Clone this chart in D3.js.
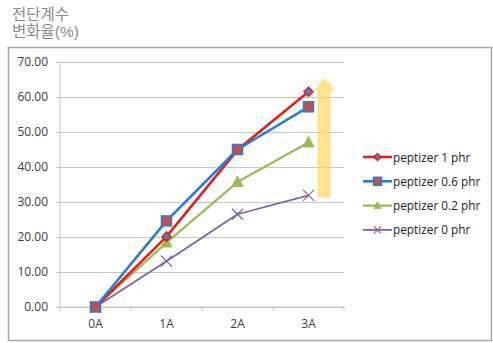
<!DOCTYPE html>
<html>
<head>
<meta charset="utf-8">
<script src="https://cdn.jsdelivr.net/npm/d3@7"></script>
<style>
  html, body { margin: 0; padding: 0; background: #fff; }
  svg { display: block; }
</style>
</head>
<body>
<svg id="chart" width="493" height="343"></svg>
<script>
// Shear modulus change rate by aging step
const categories = ["0A", "1A", "2A", "3A"];
const seriesNames = ["peptizer 1 phr", "peptizer 0.6 phr", "peptizer 0.2 phr", "peptizer 0 phr"];
const peptizer1 = [0, 20.1, 44.9, 61.5];
const peptizer06 = [0, 24.6, 45.0, 57.2];
const peptizer02 = [0, 18.4, 35.7, 47.0];
const peptizer0 = [0, 13.1, 26.5, 31.9];
const yTicks = [0, 10, 20, 30, 40, 50, 60, 70];
const titleLines = ["전단계수", "변화율(%)"];

const seriesValues = [peptizer1, peptizer06, peptizer02, peptizer0];
const styles = [
  { line: "#e0201c", width: 2.6, marker: "diamond", fill: "#4f81bd", stroke: "#e0201c" },
  { line: "#2b7bd6", width: 2.6, marker: "square", fill: "#c0504d", stroke: "#2b7bd6" },
  { line: "#9bbb59", width: 2.2, marker: "triangle", fill: "#9bbb59", stroke: "#9bbb59" },
  { line: "#8064a2", width: 1.8, marker: "cross", fill: "none", stroke: "#8064a2" }
];

const svg = d3.select("#chart");
const font = "'Open Sans', 'Liberation Sans', sans-serif";

// Axis title (two lines, top-left)
titleLines.forEach((t, i) => {
  svg.append("text")
    .attr("x", 12).attr("y", 20 + i * 17)
    .attr("font-family", "'Liberation Sans', 'Noto Sans CJK KR', sans-serif")
    .attr("font-size", 15.5).attr("fill", "#8c8c8c")
    .text(t);
});

// Chart area frame
svg.append("rect")
  .attr("x", 8.5).attr("y", 47.5).attr("width", 483).attr("height", 293)
  .attr("fill", "#fefefe").attr("stroke", "#a6a6a6").attr("stroke-width", 1.5);

const margin = { left: 60, right: 344, top: 62, bottom: 307 };
const x = d3.scaleBand().domain(categories).range([margin.left, margin.right]);
const y = d3.scaleLinear().domain([0, 70]).range([margin.bottom, margin.top]);

// Horizontal gridlines with Y axis
const yAxis = d3.axisLeft(y).tickValues(yTicks).tickFormat(d3.format(".2f"))
  .tickSize(-(margin.right - margin.left)).tickPadding(12);
const gy = svg.append("g").attr("transform", `translate(${margin.left},0)`).call(yAxis);
gy.select(".domain").remove();
gy.selectAll(".tick line").attr("stroke", "#c8c8c8").attr("stroke-width", 1).attr("x2", margin.right - margin.left).attr("x1", -4);
gy.selectAll(".tick text").attr("font-family", font).attr("font-size", 12).attr("fill", "#404040");

// Vertical axis line
svg.append("line")
  .attr("x1", margin.left).attr("x2", margin.left)
  .attr("y1", margin.top).attr("y2", margin.bottom)
  .attr("stroke", "#c8c8c8");

// X axis with category boundary ticks
const gx = svg.append("g").attr("transform", `translate(0,${margin.bottom})`);
gx.append("line").attr("x1", margin.left).attr("x2", margin.right)
  .attr("stroke", "#c8c8c8");
const bounds = categories.map(c => x(c)).concat([margin.right]);
gx.selectAll("line.tk").data(bounds).join("line").attr("class", "tk")
  .attr("x1", d => d).attr("x2", d => d).attr("y1", 0).attr("y2", 4)
  .attr("stroke", "#c8c8c8");
gx.selectAll("text").data(categories).join("text")
  .attr("x", d => x(d) + x.bandwidth() / 2).attr("y", 21)
  .attr("text-anchor", "middle")
  .attr("font-family", font).attr("font-size", 12).attr("fill", "#404040")
  .text(d => d);

// Upward trend arrow
const ax = x("3A") + x.bandwidth() / 2;
const arrowTop = y(65.5), headBase = y(61.8), arrowBottom = y(31.3);
svg.append("path")
  .attr("d", `M${ax + 9},${arrowBottom} L${ax + 9},${headBase} L${ax + 5},${headBase} L${ax + 16},${arrowTop} L${ax + 27},${headBase} L${ax + 22},${headBase} L${ax + 22},${arrowBottom} Z`)
  .attr("fill", "#ffd966").attr("opacity", 0.75);

// Marker drawing helper
function drawMarker(g, type, cx, cy, st, s) {
  if (type === "diamond") {
    g.append("path").attr("d", `M${cx},${cy - s} L${cx + s},${cy} L${cx},${cy + s} L${cx - s},${cy} Z`)
      .attr("fill", st.fill).attr("stroke", st.stroke).attr("stroke-width", 1.5);
  } else if (type === "square") {
    g.append("rect").attr("x", cx - s).attr("y", cy - s).attr("width", 2 * s).attr("height", 2 * s)
      .attr("fill", st.fill).attr("stroke", st.stroke).attr("stroke-width", 1.5);
  } else if (type === "triangle") {
    g.append("path").attr("d", `M${cx},${cy - s * 1.1} L${cx + s},${cy + s * 0.8} L${cx - s},${cy + s * 0.8} Z`)
      .attr("fill", st.fill).attr("stroke", st.stroke).attr("stroke-width", 1);
  } else {
    g.append("path").attr("d", `M${cx - s},${cy - s} L${cx + s},${cy + s} M${cx - s},${cy + s} L${cx + s},${cy - s}`)
      .attr("fill", "none").attr("stroke", st.stroke).attr("stroke-width", 1.2);
  }
}

const line = d3.line()
  .x((d, i) => x(categories[i]) + x.bandwidth() / 2)
  .y(d => y(d));

// Draw from the back series to the front
const order = [3, 2, 0, 1];
order.forEach(k => {
  const st = styles[k];
  svg.append("path").datum(seriesValues[k]).attr("d", line)
    .attr("fill", "none").attr("stroke", st.line).attr("stroke-width", st.width)
    .attr("stroke-linejoin", "round");
});
order.forEach(k => {
  const st = styles[k];
  const g = svg.append("g");
  const size = st.marker === "diamond" ? 4.5 : st.marker === "square" ? 5 : 5.5;
  seriesValues[k].forEach((v, i) => {
    drawMarker(g, st.marker, x(categories[i]) + x.bandwidth() / 2, y(v), st, size);
  });
});

// Legend
const legend = svg.append("g").attr("transform", "translate(363,157)");
seriesNames.forEach((name, k) => {
  const st = styles[k];
  const row = legend.append("g").attr("transform", `translate(0,${k * 24.3})`);
  row.append("line").attr("x1", 0).attr("x2", 29).attr("y1", 0).attr("y2", 0)
    .attr("stroke", st.line).attr("stroke-width", st.width);
  drawMarker(row, st.marker, 14.5, 0, st, st.marker === "square" ? 4 : 3.5);
  row.append("text").attr("x", 30).attr("y", 4.5)
    .attr("font-family", font).attr("font-size", 11.8).attr("fill", "#262626")
    .text(name);
});
</script>
</body>
</html>
